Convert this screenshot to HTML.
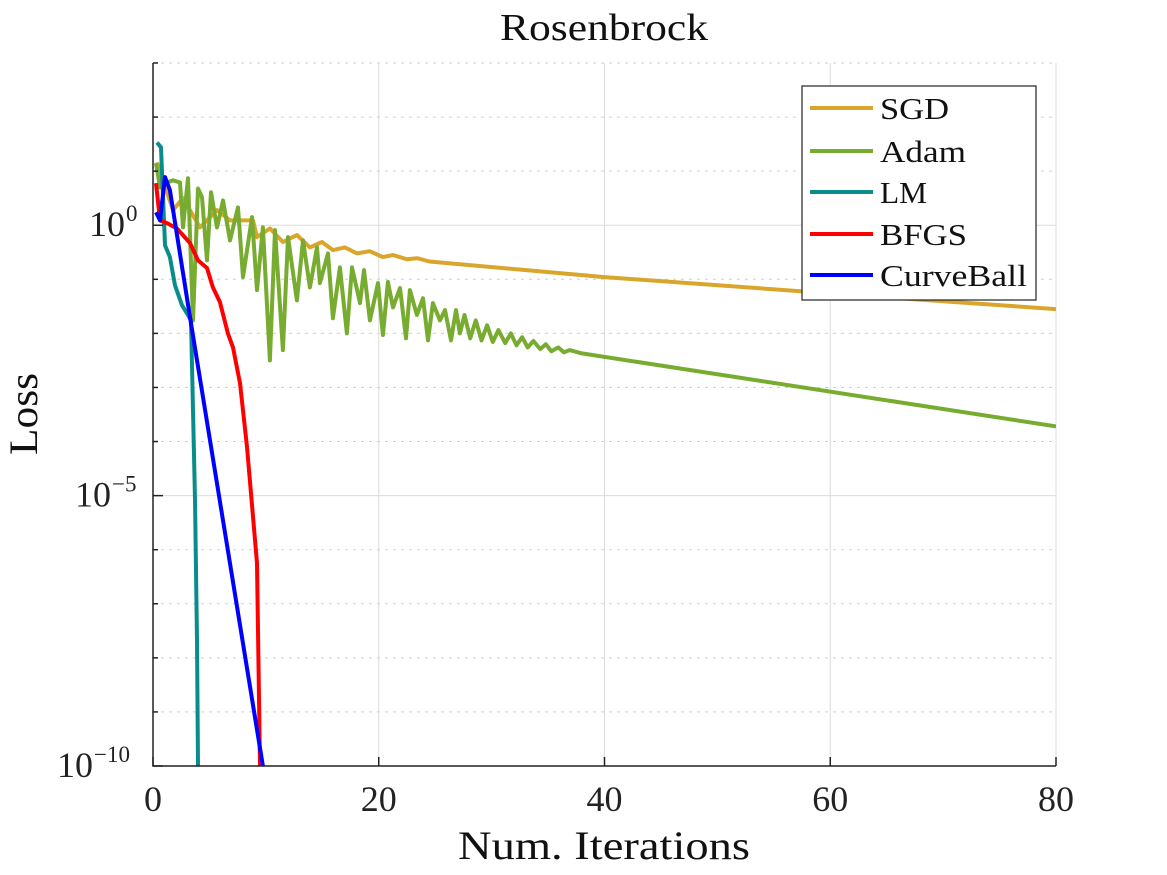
<!DOCTYPE html>
<html><head><meta charset="utf-8"><style>
body{margin:0;background:#fff}
svg{display:block;font-family:"Liberation Serif",serif}
</style></head><body>
<svg id="chart" width="1167" height="875" viewBox="0 0 1167 875" xmlns="http://www.w3.org/2000/svg">
<rect width="1167" height="875" fill="#fff"/>
<g id="grid"></g>
<defs><clipPath id="clip"><rect x="153" y="63" width="903" height="703"/></clipPath></defs>
<g id="series" clip-path="url(#clip)"></g>
<g id="axes"></g>
<text x="604" y="40" font-size="38" text-anchor="middle" textLength="208" lengthAdjust="spacingAndGlyphs" fill="#111">Rosenbrock</text>
<text x="604" y="859" font-size="40" text-anchor="middle" textLength="292" lengthAdjust="spacingAndGlyphs" fill="#111">Num. Iterations</text>
<text x="0" y="0" font-size="40" text-anchor="middle" textLength="82" lengthAdjust="spacingAndGlyphs" fill="#111" transform="translate(37,414) rotate(-90)">Loss</text>
<g id="legend"></g>
</svg>
<script>
const xTicks=[0,20,40,60,80];
const yMajor=[0,-5,-10];
const yMajorLabels=["0","−5","−10"];
const names=["SGD","Adam","LM","BFGS","CurveBall"];
const colors=["#D9A52B","#77AC30","#0B8C8C","#FF0000","#0000FF"];
const sgdX=[0.35,1.77,2.66,4.16,5.67,6.82,8.86,9.21,10.36,11.51,12.75,13.9,14.97,15.94,17.0,18.07,19.2,20.37,21.26,22.5,23.4,24.5,27.2,40,60,80];
const sgdY=[1.16,0.28,0.5,-0.04,0.28,0.09,0.09,-0.22,-0.06,-0.31,-0.18,-0.41,-0.31,-0.46,-0.41,-0.52,-0.48,-0.59,-0.55,-0.63,-0.61,-0.67,-0.72,-0.96,-1.26,-1.55];
const adamX=[0.27,0.62,1.24,1.77,2.39,2.66,3.10,3.54,3.99,4.34,4.78,5.14,5.67,6.20,6.82,7.53,7.97,8.77,9.21,9.74,10.36,10.81,11.51,11.96,12.75,13.29,13.9,14.53,14.79,15.5,15.94,16.56,17.18,17.63,18.34,18.69,19.22,19.93,20.37,20.81,21.26,21.88,22.41,22.76,23.38,23.92,24.36,24.8,25.42,25.87,26.4,26.84,27.19,27.6,28.1,28.6,29.1,29.6,30.1,30.6,31.2,31.7,32.2,32.7,33.2,33.7,34.3,34.8,35.3,35.9,36.4,36.9,38,80];
const adamY=[1.15,0.70,0.79,0.83,0.79,-0.04,0.87,-1.76,0.68,0.52,-0.65,0.61,-0.04,0.46,-0.28,0.33,-0.96,0.15,-1.20,-0.04,-2.50,-0.09,-2.31,-0.22,-1.39,-0.28,-1.15,-0.41,-1.07,-0.52,-1.72,-0.78,-2.0,-0.78,-1.44,-0.83,-1.76,-1.07,-2.03,-1.05,-1.52,-1.16,-2.09,-1.20,-1.66,-1.35,-2.13,-1.44,-1.76,-1.57,-2.13,-1.57,-2.0,-1.66,-2.09,-1.76,-2.13,-1.85,-2.16,-1.94,-2.18,-2.0,-2.22,-2.07,-2.26,-2.14,-2.29,-2.2,-2.33,-2.26,-2.35,-2.31,-2.37,-3.72];
const lmX=[0.35,0.71,1.06,1.5,1.95,2.57,3.1,3.37,3.54,3.72,3.9,3.99,4.05];
const lmY=[1.53,1.44,-0.37,-0.59,-1.11,-1.48,-1.66,-1.76,-3.42,-5.08,-7.67,-10,-11];
const bfgsX=[0.27,0.62,1.24,2.13,3.28,3.99,4.78,5.31,5.93,6.64,7.09,7.71,8.33,9.21,9.48,9.55];
const bfgsY=[0.78,0.09,0.04,-0.06,-0.33,-0.65,-0.79,-1.15,-1.42,-2.0,-2.26,-2.92,-4.10,-6.25,-10,-11];
const cbX=[0.27,0.62,1.06,1.5,3.28,9.74,9.85];
const cbY=[0.24,0.09,0.89,0.65,-1.70,-10,-10.15];

const NS="http://www.w3.org/2000/svg";
const L=153,R=1056,T=63,B=766,yMin=-10,yMax=3,xMax=80;
const sx=v=>L+(v/xMax)*(R-L);
const sy=v=>B-(v-yMin)/(yMax-yMin)*(B-T);
function mk(tag,attrs,parent){const e=document.createElementNS(NS,tag);for(const k in attrs)e.setAttribute(k,attrs[k]);parent.appendChild(e);return e;}
const grid=document.getElementById('grid'),axes=document.getElementById('axes'),series=document.getElementById('series'),legend=document.getElementById('legend');
for(let d=yMin;d<=yMax;d++){
  const major=yMajor.includes(d);
  const g=mk('line',{x1:L,x2:R,y1:sy(d),y2:sy(d),stroke:major?'#dcdcdc':'#cfcfcf','stroke-width':1,'stroke-dasharray':major?'none':'3,5'},grid);
  
  
  const t=mk('line',{x1:L,x2:L+(major?10:5),y1:sy(d),y2:sy(d),stroke:'#222','stroke-width':1.5},axes);
  
  
}
xTicks.forEach(v=>{
  const g=mk('line',{x1:sx(v),x2:sx(v),y1:T,y2:B,stroke:'#dcdcdc','stroke-width':1},grid);
  
  
  const t=mk('line',{x1:sx(v),x2:sx(v),y1:B,y2:B-9,stroke:'#222','stroke-width':1.5},axes);
  
  
  const lb=mk('text',{x:sx(v),y:811,'font-size':36,'text-anchor':'middle',fill:'#222'},axes);
  lb.textContent=v;
  
  
});
yMajor.forEach((d,i)=>{
  const expW=i===0?12:(i===1?26:44);
  const baseEnd=139-expW-2;
  const lb=mk('text',{x:baseEnd,y:sy(d)+11,'font-size':36,'text-anchor':'end',fill:'#222'},axes);
  lb.textContent='10';
  
  
  const ex=mk('text',{x:baseEnd+1,y:sy(d)-4,'font-size':23,'text-anchor':'start',fill:'#222'},axes);
  ex.textContent=yMajorLabels[i];
  
  
});
const ax=mk('path',{d:`M${L},${T} L${L},${B} L${R},${B}`,fill:'none',stroke:'#222','stroke-width':1.5},axes);


const data=[[sgdX,sgdY],[adamX,adamY],[lmX,lmY],[bfgsX,bfgsY],[cbX,cbY]];
data.forEach((s,i)=>{
  const d=s[0].map((x,j)=>(j?'L':'M')+sx(x).toFixed(1)+','+sy(s[1][j]).toFixed(1)).join(' ');
  const p=mk('path',{d:d,fill:'none',stroke:colors[i],'stroke-width':4,'stroke-linejoin':'round'},series);
  
  
});
const box=mk('rect',{x:802,y:86,width:234,height:214,fill:'#fff',stroke:'#222','stroke-width':1.2},legend);


const ly=[108,151,192,234,275];
const lw=[69,86,47,87,147];
names.forEach((n,i)=>{
  const ln=mk('line',{x1:810,x2:873,y1:ly[i],y2:ly[i],stroke:colors[i],'stroke-width':4},legend);
  
  
  const t=mk('text',{x:880,y:ly[i]+11,'font-size':31,fill:'#111',textLength:lw[i],lengthAdjust:'spacingAndGlyphs'},legend);
  t.textContent=n;
  
  
});
</script>
</body></html>
